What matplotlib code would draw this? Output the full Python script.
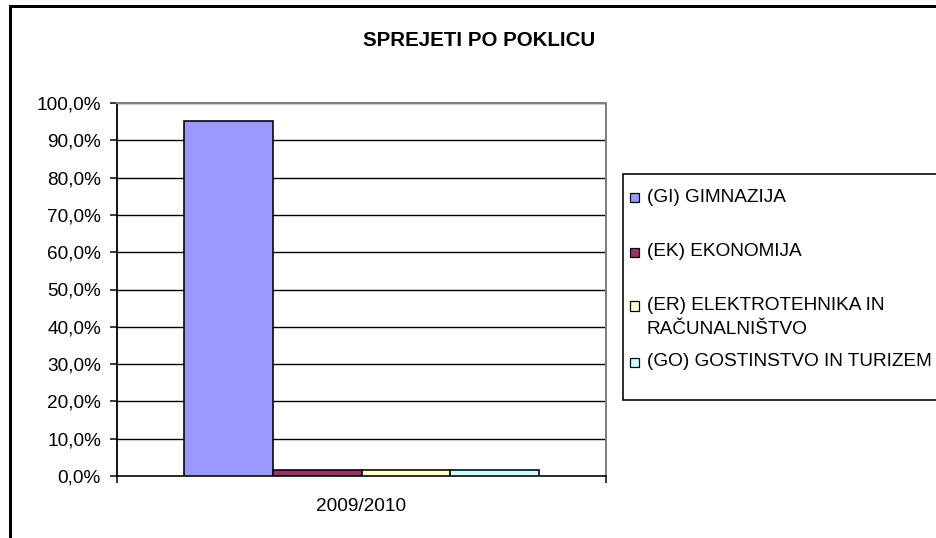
import numpy as np
import matplotlib.pyplot as plt
from matplotlib.patches import Rectangle

plt.rcParams['font.family'] = ['Liberation Sans', 'DejaVu Sans']

# data
title = 'SPREJETI PO POKLICU'
category = '2009/2010'
series = ['(GI) GIMNAZIJA', '(EK) EKONOMIJA',
          '(ER) ELEKTROTEHNIKA IN\nRAČUNALNIŠTVO', '(GO) GOSTINSTVO IN TURIZEM']
values = [95.2, 1.6, 1.6, 1.6]
colors = ['#9999FF', '#993366', '#FFFFCC', '#CCFFFF']
yticks = np.arange(0, 101, 10)

W, H = 936, 538
fig = plt.figure(figsize=(W / 72, H / 72), dpi=72)

def fx(px):
    return px / W

def fy(py):
    return 1 - py / H

# plot area
ax = fig.add_axes([fx(117), fy(476), fx(606) - fx(117), fy(103) - fy(476)])
w = 1 / 5.5  # excel gap width 150%
offs = (np.arange(len(values)) - (len(values) - 1) / 2) * w
for o, v, c in zip(offs, values, colors):
    ax.bar(o, v, width=w, color=c, edgecolor='black', linewidth=1.6, zorder=3)

ax.set_xlim(-0.5, 0.5)
ax.set_ylim(0, 100)
ax.set_yticks(yticks)
ax.set_yticklabels([f'{t:.1f}%'.replace('.', ',') for t in yticks], fontsize=19)
ax.yaxis.grid(True, color='black', linewidth=1.4, zorder=1)
ax.tick_params(axis='y', direction='out', length=7, width=1.5, pad=9)

ax.set_xticks([-0.5, 0.5])
ax.set_xticklabels(['', ''])
ax.set_xticks([0], minor=True)
ax.set_xticklabels([category], minor=True, fontsize=19)
ax.tick_params(axis='x', which='major', direction='out', length=7, width=1.5)
ax.tick_params(axis='x', which='minor', length=0, pad=22)

ax.spines['left'].set_color('black')
ax.spines['left'].set_linewidth(1.8)
ax.spines['bottom'].set_color('black')
ax.spines['bottom'].set_linewidth(1.6)
ax.spines['top'].set_color('#808080')
ax.spines['right'].set_color('#808080')
ax.spines['top'].set_linewidth(2)
ax.spines['right'].set_linewidth(2)

# chart title
fig.text(fx(479), fy(40), title, ha='center', va='center',
         fontsize=20.5, fontweight='bold')

# legend (excel style, cut off on the right)
fig.patches.append(Rectangle((fx(623), fy(400)), fx(400), fy(174) - fy(400),
                             transform=fig.transFigure, facecolor='white',
                             edgecolor='black', linewidth=1.6))
leg_y = [197, 252, 306, 362]
for lab, c, y in zip(series, colors, leg_y):
    fig.patches.append(Rectangle((fx(630), fy(y + 4.5)), fx(9), fy(y - 4.5) - fy(y + 4.5),
                                 transform=fig.transFigure, facecolor=c,
                                 edgecolor='black', linewidth=1.2))
    for i, line in enumerate(lab.split('\n')):
        fig.text(fx(647), fy(y + i * 23), line, ha='left', va='center', fontsize=19)

# outer chart border
fig.patches.append(Rectangle((fx(10), fy(H + 20)), fx(W + 20), fy(6) - fy(H + 20),
                             transform=fig.transFigure, facecolor='none',
                             edgecolor='black', linewidth=3))

fig.savefig('out.png', dpi=72)
